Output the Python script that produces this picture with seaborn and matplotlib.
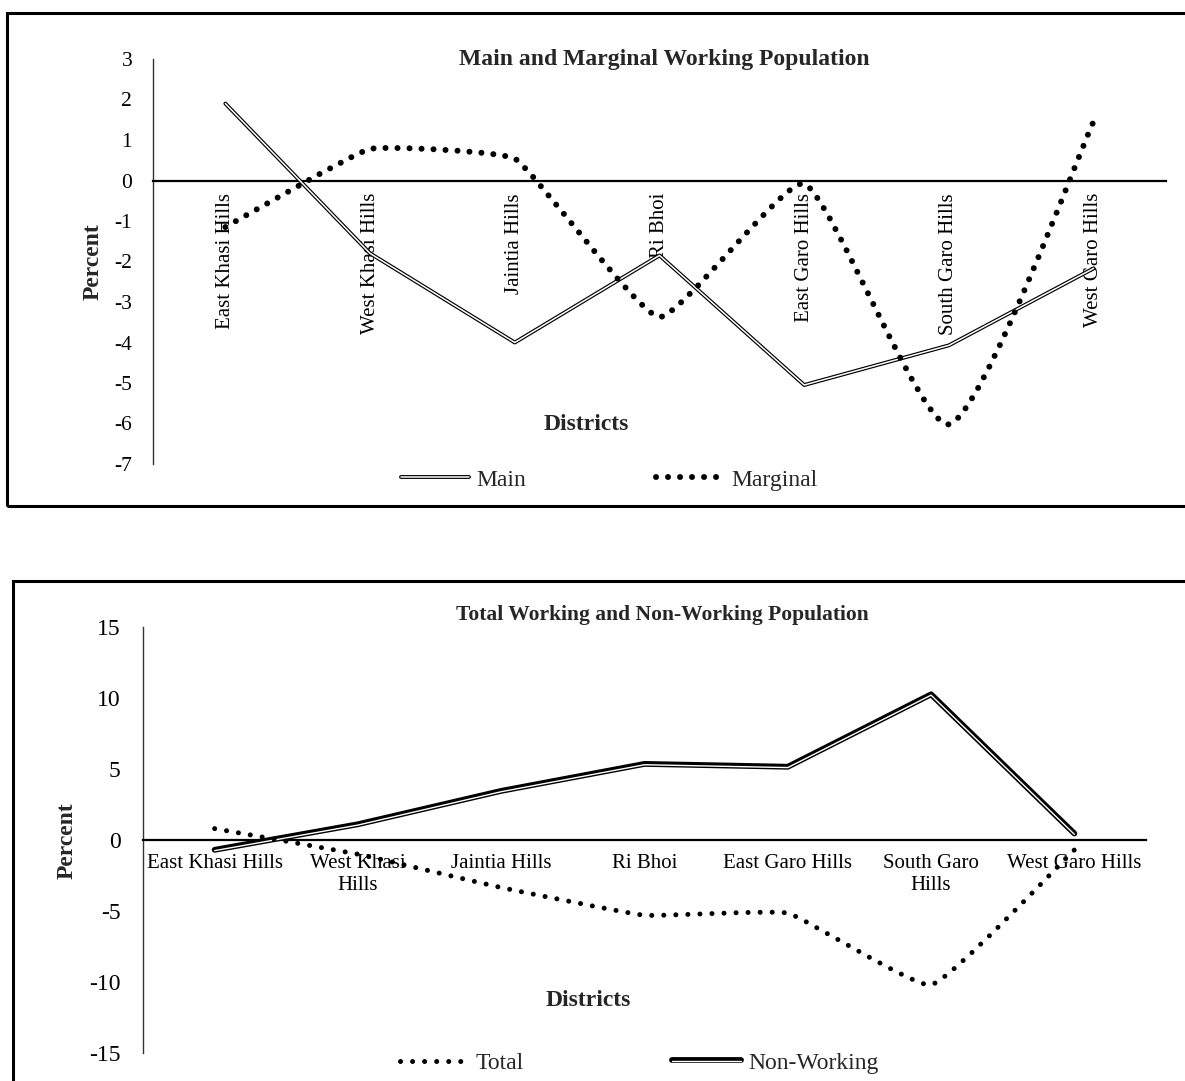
import numpy as np
import pandas as pd
import matplotlib
matplotlib.use("Agg")
import matplotlib.pyplot as plt
import matplotlib.patheffects as pe
from matplotlib.path import Path
from matplotlib.patches import PathPatch, Rectangle
from matplotlib.lines import Line2D
import seaborn as sns

# District-wise change (percent) in working population, Meghalaya
districts = ["East Khasi Hills", "West Khasi Hills", "Jaintia Hills", "Ri Bhoi",
             "East Garo Hills", "South Garo Hills", "West Garo Hills"]
districts_wrapped = ["East Khasi Hills", "West Khasi\nHills", "Jaintia Hills", "Ri Bhoi",
                     "East Garo Hills", "South Garo\nHills", "West Garo Hills"]

main_workers = [1.9, -1.8, -4.0, -1.85, -5.05, -4.07, -2.17]
marginal_workers = [-1.15, 0.78, 0.54, -3.37, -0.08, -6.02, 1.46]

total_workers = [0.8, -1.0, -3.35, -5.3, -5.15, -10.2, -0.7]
non_workers = [-0.75, 1.05, 3.4, 5.3, 5.1, 10.2, 0.4]

top_yticks = list(range(-7, 4))
bottom_yticks = list(range(-15, 16, 5))

sns.set_theme(style="white")
plt.rcParams["font.family"] = ["Liberation Serif", "DejaVu Serif"]
plt.rcParams["axes.unicode_minus"] = False

W, H = 1185, 1081
fig = plt.figure(figsize=(W / 100, H / 100), dpi=100)
fig.patch.set_facecolor("white")


def smooth_path(ax, xs, ys, k=0.1):
    """Bezier path through the points; control points are set in screen space
    along the neighbour direction, at a fraction k of the segment length."""
    disp = ax.transData.transform(np.column_stack([xs, ys]).astype(float))
    n = len(disp)
    verts = [disp[0]]
    codes = [Path.MOVETO]
    for i in range(n - 1):
        p0 = disp[max(i - 1, 0)]
        p1 = disp[i]
        p2 = disp[i + 1]
        p3 = disp[min(i + 2, n - 1)]
        seg = np.linalg.norm(p2 - p1)
        t1 = (p2 - p0) / np.linalg.norm(p2 - p0)
        t2 = (p3 - p1) / np.linalg.norm(p3 - p1)
        verts += [p1 + t1 * k * seg, p2 - t2 * k * seg, p2]
        codes += [Path.CURVE4] * 3
    return Path(ax.transData.inverted().transform(np.array(verts)), codes)


def dotted_curve(ax, xs, ys, lw, gap):
    patch = PathPatch(smooth_path(ax, xs, ys), facecolor="none", edgecolor="black",
                      linewidth=lw, linestyle=(0, (0.01, gap)), zorder=3)
    patch.set_capstyle("round")
    ax.add_patch(patch)


def double_line(lw_outer, lw_inner, offset=(0, 0)):
    return dict(color="white", linewidth=lw_inner,
                path_effects=[pe.Stroke(linewidth=lw_outer, foreground="black", offset=offset),
                              pe.Normal()])


def style_axes(ax):
    ax.set_xlim(-0.5, 6.5)
    ax.patch.set_alpha(0)
    ax.spines["top"].set_visible(False)
    ax.spines["right"].set_visible(False)
    ax.spines["bottom"].set_position(("data", 0))
    ax.spines["bottom"].set_linewidth(1.6)
    ax.spines["bottom"].set_color("black")
    ax.spines["left"].set_linewidth(1.0)
    ax.spines["left"].set_color("#333333")


pos = np.arange(len(districts))

# ---------------- Main and Marginal ----------------
ax1 = fig.add_axes([153 / W, 1 - 464 / H, 1013 / W, 405 / H])
style_axes(ax1)
ax1.set_ylim(-7, 3)
top_df = pd.DataFrame({"pos": pos, "district": districts,
                       "Main": main_workers, "Marginal": marginal_workers})
main_style = double_line(2.8, 1.1)
sns.lineplot(data=top_df, x="pos", y="Main", ax=ax1, errorbar=None,
             zorder=3, legend=False, **main_style)
ax1.set_xlim(-0.5, 6.5)
ax1.set_ylim(-7, 3)
marg_lw, marg_gap = 4.3, 2.0
dotted_curve(ax1, top_df["pos"], top_df["Marginal"], marg_lw, marg_gap)
ax1.set_yticks(top_yticks)
ax1.set_xticks(pos, districts, rotation=90, fontsize=15)
ax1.tick_params(axis="y", labelsize=15.5, pad=15)
ax1.tick_params(axis="x", pad=9)

# ---------------- Total and Non-Working ----------------
ax2 = fig.add_axes([143 / W, 1 - 1053 / H, 1003 / W, 426 / H])
style_axes(ax2)
ax2.set_ylim(-15, 15)
bot_df = pd.DataFrame({"pos": pos, "district": districts,
                       "Total": total_workers, "Non-Working": non_workers})
nw_style = double_line(4.2, 1.0, offset=(0, 0.6))
sns.lineplot(data=bot_df, x="pos", y="Non-Working", ax=ax2, errorbar=None,
             zorder=3, legend=False, **nw_style)
ax2.set_xlim(-0.5, 6.5)
ax2.set_ylim(-15, 15)
tot_lw, tot_gap = 3.6, 2.4
dotted_curve(ax2, bot_df["pos"], bot_df["Total"], tot_lw, tot_gap)
ax2.set_yticks(bottom_yticks)
ax2.set_xticks(pos, districts_wrapped, fontsize=15)
ax2.tick_params(axis="y", labelsize=17, pad=16)
ax2.tick_params(axis="x", pad=10)

for ax in (ax1, ax2):
    ax.set_xlabel("")
    ax.set_ylabel("")
    ax.tick_params(length=0, colors="black")

# Titles and axis names
fig.text(664 / W, 1 - 60 / H, "Main and Marginal Working Population",
         ha="center", va="center", fontsize=17, fontweight="bold")
fig.text(586 / W, 1 - 424 / H, "Districts", ha="center", va="center",
         fontsize=17, fontweight="bold")
fig.text(93 / W, 1 - 262 / H, "Percent", ha="center", va="center",
         rotation=90, fontsize=17, fontweight="bold")

fig.text(662 / W, 1 - 615 / H, "Total Working and Non-Working Population",
         ha="center", va="center", fontsize=15.5, fontweight="bold")
fig.text(588 / W, 1 - 1001 / H, "Districts", ha="center", va="center",
         fontsize=17, fontweight="bold")
fig.text(67 / W, 1 - 841 / H, "Percent", ha="center", va="center",
         rotation=90, fontsize=17, fontweight="bold")

# Legends
h_main = Line2D([], [], **main_style)
h_marg = Line2D([], [], color="black", linewidth=marg_lw,
                linestyle=(0, (0.01, marg_gap)), dash_capstyle="round")
fig.legend(handles=[h_main, h_marg], labels=["Main", "Marginal"], loc="center",
           bbox_to_anchor=(609 / W, 1 - 480 / H), ncol=2, frameon=False,
           fontsize=17, handlelength=2.9, handletextpad=0.3, columnspacing=5.5)

h_tot = Line2D([], [], color="black", linewidth=tot_lw,
               linestyle=(0, (0.01, tot_gap)), dash_capstyle="round")
h_nw = Line2D([], [], **nw_style)
fig.legend(handles=[h_tot, h_nw], labels=["Total", "Non-Working"], loc="center",
           bbox_to_anchor=(639 / W, 1 - 1063 / H), ncol=2, frameon=False,
           fontsize=17, handlelength=2.9, handletextpad=0.3, columnspacing=6.3)

# Chart borders
fig.add_artist(Rectangle((7 / W, 1 - 506 / H), 1200 / W, 493 / H,
                         transform=fig.transFigure, fill=False, lw=2.2, ec="black"))
fig.add_artist(Rectangle((13 / W, 1 - 1120 / H), 1200 / W, 539 / H,
                         transform=fig.transFigure, fill=False, lw=2.2, ec="black"))

fig.savefig("out.png", dpi=100, facecolor="white")
